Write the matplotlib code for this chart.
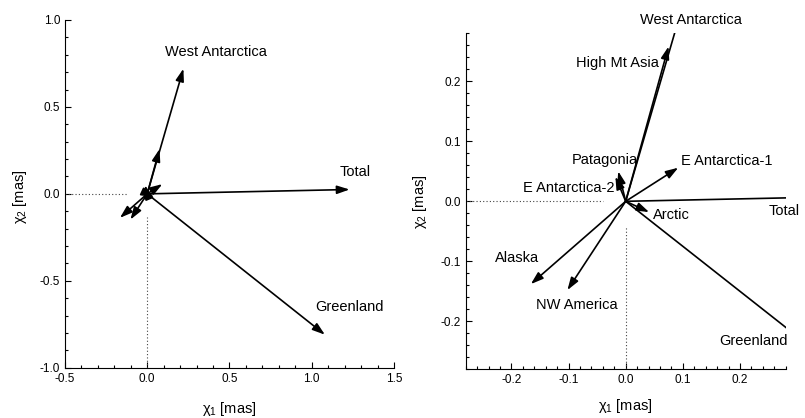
import matplotlib
matplotlib.use("Agg")
import matplotlib.pyplot as plt
from matplotlib.ticker import MultipleLocator

plt.rcParams['font.family'] = ['Liberation Sans', 'DejaVu Sans']
plt.rcParams['mathtext.fontset'] = 'custom'
plt.rcParams['mathtext.rm'] = 'Liberation Sans'
plt.rcParams['mathtext.it'] = 'Liberation Sans'
plt.rcParams['axes.unicode_minus'] = False

# vectors (chi1, chi2) in mas
regions = ["Total", "Greenland", "West Antarctica", "High Mt Asia", "E Antarctica-1",
           "Patagonia", "E Antarctica-2", "Arctic", "Alaska", "NW America"]
chi1 = [1.23, 1.08, 0.22, 0.075, 0.092, -0.013, -0.018, 0.041, -0.166, -0.102]
chi2 = [0.025, -0.81, 0.72, 0.258, 0.056, 0.05, 0.041, -0.018, -0.138, -0.148]

# left panel labels
left_labels = ["West Antarctica", "Total", "Greenland"]
left_lx = [0.415, 1.265, 1.23]
left_ly = [0.816, 0.126, -0.65]

# right panel labels
right_labels = ["West Antarctica", "High Mt Asia", "Patagonia", "E Antarctica-1", "E Antarctica-2",
                "Arctic", "Total", "Alaska", "NW America", "Greenland"]
right_lx = [0.114, -0.015, -0.037, 0.177, -0.100, 0.080, 0.278, -0.191, -0.085, 0.223]
right_ly = [0.302, 0.230, 0.069, 0.068, 0.023, -0.022, -0.016, -0.094, -0.173, -0.232]

fig = plt.figure(figsize=(8.05, 4.18), dpi=100)
axL = fig.add_axes([0.0807, 0.1203, 0.4087, 0.8319])
axR = fig.add_axes([0.5785, 0.1165, 0.3975, 0.8038])


def draw(ax, xlim, ylim, dot_x_end, dot_y_end):
    ax.set_xlim(*xlim)
    ax.set_ylim(*ylim)
    ax.plot([xlim[0], dot_x_end], [0, 0], ls=(0, (1, 2)), color='#444444', lw=0.8)
    ax.plot([0, 0], [ylim[0], dot_y_end], ls=(0, (1, 2)), color='#444444', lw=0.8)
    for x, y in zip(chi1, chi2):
        if xlim[0] <= x <= xlim[1] and ylim[0] <= y <= ylim[1]:
            ax.annotate('', xy=(x, y), xytext=(0, 0),
                        arrowprops=dict(arrowstyle='-|>,head_length=0.75,head_width=0.25',
                                        color='black', lw=1.2, shrinkA=0, shrinkB=0,
                                        mutation_scale=10))
        else:
            ax.plot([0, x], [0, y], color='black', lw=1.2)
    for s in ['top', 'right']:
        ax.spines[s].set_visible(False)
    ax.tick_params(which='both', direction='in', labelsize=8.5)
    ax.tick_params(which='major', length=4, width=0.8)
    ax.tick_params(which='minor', length=2.5, width=0.8)


draw(axL, (-0.5, 1.5), (-1.0, 1.0), -0.115, -0.132)
axL.xaxis.set_major_locator(MultipleLocator(0.5))
axL.xaxis.set_minor_locator(MultipleLocator(0.1))
axL.yaxis.set_major_locator(MultipleLocator(0.5))
axL.yaxis.set_minor_locator(MultipleLocator(0.1))
for t, x, y in zip(left_labels, left_lx, left_ly):
    axL.text(x, y, t, ha='center', va='center', fontsize=10.5)

draw(axR, (-0.28, 0.28), (-0.28, 0.28), -0.039, -0.042)
axR.xaxis.set_major_locator(MultipleLocator(0.1))
axR.xaxis.set_minor_locator(MultipleLocator(0.02))
axR.yaxis.set_major_locator(MultipleLocator(0.1))
axR.yaxis.set_minor_locator(MultipleLocator(0.02))
for t, x, y in zip(right_labels, right_lx, right_ly):
    axR.text(x, y, t, ha='center', va='center', fontsize=10.5, clip_on=False)

for ax, xl, yl in [(axL, (0.5, -0.092), (-0.109, 0.492)), (axR, (0.5, -0.0815), (-0.114, 0.499))]:
    ax.set_xlabel(r'$\chi_1$ [mas]', fontsize=10.5)
    ax.set_ylabel(r'$\chi_2$ [mas]', fontsize=10.5)
    ax.xaxis.set_label_coords(*xl)
    ax.yaxis.set_label_coords(*yl)

fig.savefig('out.png', dpi=100)
